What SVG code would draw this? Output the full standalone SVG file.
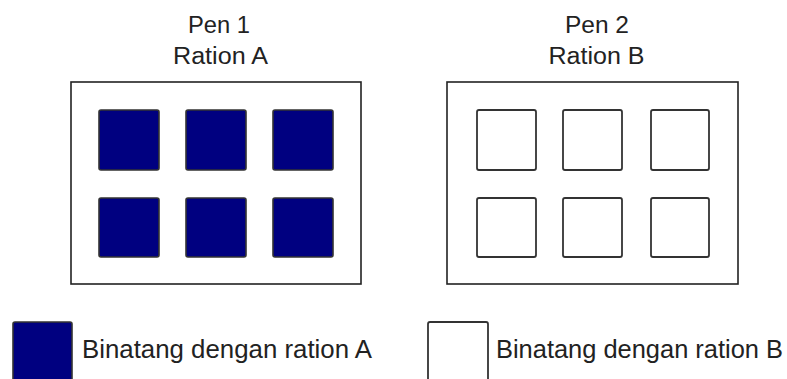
<svg xmlns="http://www.w3.org/2000/svg" width="787" height="379" viewBox="0 0 787 379">
<style>
.pen{fill:#ffffff;stroke:#222;stroke-width:1.6}
.a{fill:#000080;stroke:#333;stroke-width:1.6}
.b{fill:#ffffff;stroke:#333;stroke-width:1.8}
text{font-family:"Liberation Sans",Arial,sans-serif;fill:#222}
.t{font-size:23.5px;text-anchor:middle}
.l{font-size:25.7px}
</style>
<rect width="787" height="379" fill="#ffffff"/>
<g id="pen1">
<text class="t" x="219" y="33" textLength="62" lengthAdjust="spacingAndGlyphs">Pen 1</text>
<text class="t" x="220.5" y="64" textLength="95" lengthAdjust="spacingAndGlyphs">Ration A</text>
<rect class="pen" x="71" y="82" width="290" height="202"/>
<rect class="a" x="99" y="110" width="60" height="60" rx="2"/>
<rect class="a" x="186" y="110" width="60" height="60" rx="2"/>
<rect class="a" x="273" y="110" width="60" height="60" rx="2"/>
<rect class="a" x="99" y="198" width="60" height="59" rx="2"/>
<rect class="a" x="186" y="198" width="60" height="59" rx="2"/>
<rect class="a" x="273" y="198" width="60" height="59" rx="2"/>
</g>
<g id="pen2">
<text class="t" x="597" y="33" textLength="64" lengthAdjust="spacingAndGlyphs">Pen 2</text>
<text class="t" x="596.5" y="64" textLength="96" lengthAdjust="spacingAndGlyphs">Ration B</text>
<rect class="pen" x="447" y="82" width="291" height="202"/>
<rect class="b" x="477" y="110" width="59" height="60" rx="2"/>
<rect class="b" x="563" y="110" width="59" height="60" rx="2"/>
<rect class="b" x="651" y="110" width="58" height="60" rx="2"/>
<rect class="b" x="477" y="198" width="59" height="59" rx="2"/>
<rect class="b" x="563" y="198" width="59" height="59" rx="2"/>
<rect class="b" x="651" y="198" width="58" height="59" rx="2"/>
</g>
<g id="legendA">
<rect class="a" x="13" y="322" width="59" height="62" rx="2"/>
<text class="l" x="82" y="358" textLength="290" lengthAdjust="spacingAndGlyphs">Binatang dengan ration A</text>
</g>
<g id="legendB">
<rect class="b" x="428" y="322" width="60" height="62" rx="2"/>
<text class="l" x="496" y="358" textLength="287" lengthAdjust="spacingAndGlyphs">Binatang dengan ration B</text>
</g>
<g id="connectors"></g>
</svg>
